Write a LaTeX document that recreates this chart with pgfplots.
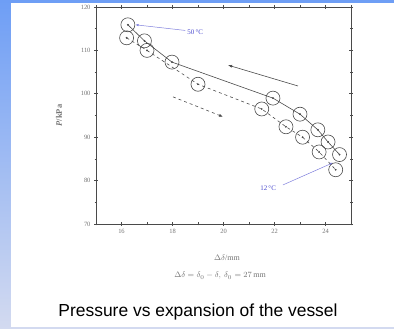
\documentclass[border=0pt]{standalone}
\usepackage{pgfplots}
\pgfplotsset{compat=1.18}
\usepackage{fontspec}
\setmainfont{Liberation Serif}
\newfontfamily\arial{Liberation Sans}
\usetikzlibrary{arrows.meta}
\definecolor{bandblue}{HTML}{6E9EF5}
\definecolor{bandlight}{HTML}{D3DAF0}
\definecolor{annblue}{HTML}{4A4ACF}
\definecolor{plotgray}{HTML}{4A4A4A}
\pgfplotstableread{
x y
16.25 115.9
16.9 112.2
17.98 107.3
21.94 99.0
23.0 95.3
23.7 91.7
24.1 88.9
24.55 86.0
}\heating
\pgfplotstableread{
x y
16.2 112.9
17.0 110.0
19.0 102.2
21.5 96.5
22.45 92.4
23.1 90.0
23.75 86.6
24.4 82.5
}\cooling
\begin{document}
\begin{tikzpicture}[x=1bp,y=1bp]
\useasboundingbox (0,0) rectangle (394,329);
\fill[white] (0,0) rectangle (394,329);
\shade[top color=bandblue, bottom color=bandlight] (0,0) rectangle (11,329);
\fill[bandblue] (0,326) rectangle (394,329);
\fill[bandlight] (11,0) rectangle (394,2);
\begin{axis}[
  at={(96bp,105bp)}, anchor=south west, scale only axis,
  width=255bp, height=217bp,
  xmin=15, xmax=25, ymin=70, ymax=120,
  xtick={16,18,20,22,24}, minor xtick={15,17,19,21,23,25},
  ytick={70,80,90,100,110,120}, minor ytick={75,85,95,105,115},
  tick align=center, major tick length=4bp, minor tick length=3bp,
  axis line style={plotgray, line width=1pt},
  every tick/.style={plotgray, line width=0.7pt},
  tick label style={font=\fontsize{6.5}{7}\selectfont, text=gray!90!black},
  /pgf/number format/assume math mode=true,
  ylabel={\textbf{\textit{P}/kPa}},
  ylabel style={font=\fontsize{8.5}{9}\selectfont, text=gray!90!black, at={(axis description cs:-0.12,0.5)}},
  clip=false,
]
\addplot[plotgray, line width=0.6pt] table[x=x,y=y] {\heating};
\addplot[plotgray, line width=0.6pt, dashed] table[x=x,y=y] {\cooling};
\addplot[only marks, mark=o, mark size=7bp, mark options={plotgray, line width=0.6pt}] table[x=x,y=y] {\heating};
\addplot[only marks, mark=o, mark size=7bp, mark options={plotgray, line width=0.6pt}] table[x=x,y=y] {\cooling};
\addplot[only marks, mark=*, mark size=0.7bp, plotgray] table[x=x,y=y] {\heating};
\addplot[only marks, mark=*, mark size=0.7bp, plotgray] table[x=x,y=y] {\cooling};
\draw[plotgray, line width=0.6pt, -{Latex[length=4bp,width=3bp]}] (axis cs:22.92,101.8) -- (axis cs:20.18,106.6);
\draw[plotgray, line width=0.6pt, dashed, -{Latex[length=4bp,width=3bp]}] (axis cs:18.02,99.3) -- (axis cs:19.98,94.7);
\draw[annblue!70, line width=0.5pt, -{Latex[length=3bp,width=2.5bp]}] (axis cs:18.5,114.6) -- (axis cs:16.55,115.9);
\node[annblue, font=\fontsize{7}{8}\selectfont, anchor=west] at (axis cs:18.45,114.3) {50\,°C};
\draw[annblue!70, line width=0.5pt, -{Latex[length=3bp,width=2.5bp]}] (axis cs:22.33,79.0) -- (axis cs:24.29,84.1);
\node[annblue, font=\fontsize{7}{8}\selectfont] at (axis cs:21.75,78.2) {12\,°C};
\end{axis}
\node[text=gray!90!black, font=\fontsize{8}{9}\selectfont] at (227,71) {$\Delta\delta$/mm};
\node[text=gray!90!black, font=\fontsize{8}{9}\selectfont] at (220,53) {$\Delta\delta=\delta_0-\delta,\ \delta_0=27\,\mathrm{mm}$};
\node[font=\arial\fontsize{17.5}{20}\selectfont] at (198,17) {Pressure vs expansion of the vessel};
\end{tikzpicture}
\end{document}
